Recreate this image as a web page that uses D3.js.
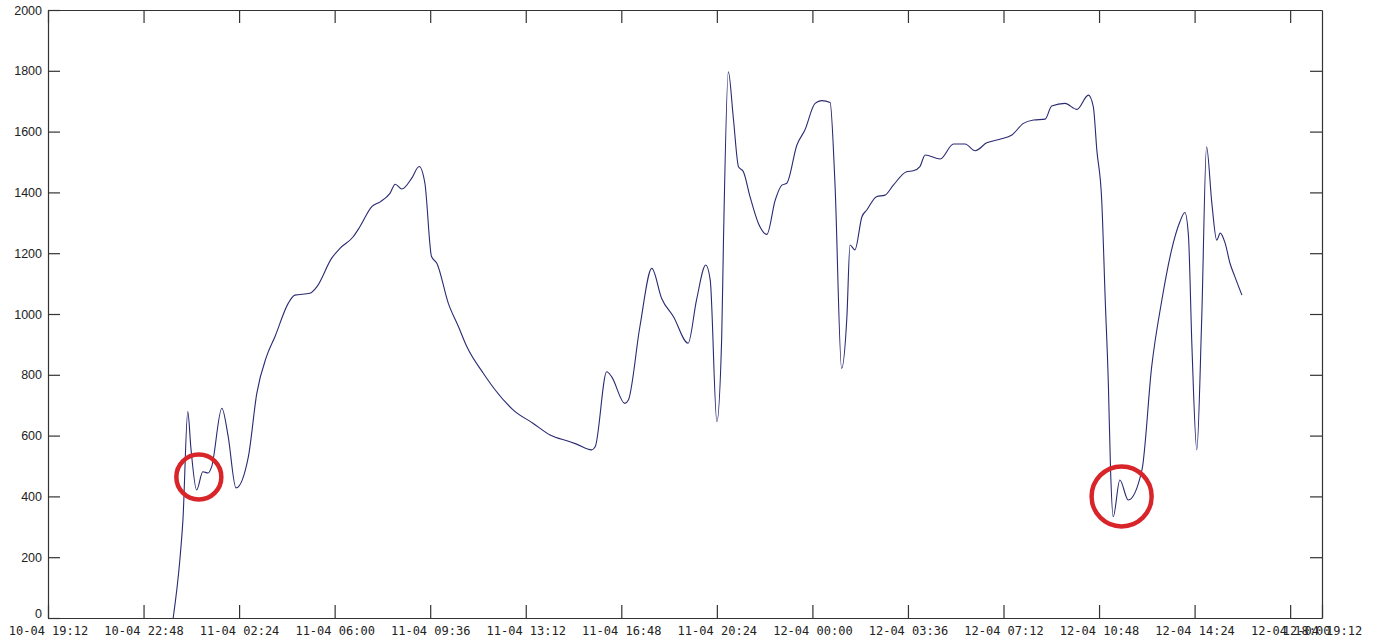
<!DOCTYPE html>
<html>
<head>
<meta charset="utf-8">
<script src="https://cdn.jsdelivr.net/npm/d3@7"></script>
<style>
  body { margin: 0; background: #fff; }
  svg { display: block; }
</style>
</head>
<body>
<script>
// messpunkte (zeit / wert)
var times = [
  "10-04 23:55", "11-04 00:10", "11-04 00:17", "11-04 00:28", "11-04 00:35", "11-04 00:48",
  "11-04 01:02", "11-04 01:14", "11-04 01:22", "11-04 01:45", "11-04 01:59", "11-04 02:17",
  "11-04 02:45", "11-04 03:04", "11-04 03:26", "11-04 03:45", "11-04 04:15", "11-04 04:30",
  "11-04 05:04", "11-04 05:20", "11-04 05:53", "11-04 06:12", "11-04 06:42", "11-04 06:57",
  "11-04 07:24", "11-04 07:43", "11-04 08:05", "11-04 08:17", "11-04 08:32", "11-04 08:54",
  "11-04 09:11", "11-04 09:24", "11-04 09:39", "11-04 09:51", "11-04 10:17", "11-04 10:40",
  "11-04 10:59", "11-04 11:36", "11-04 12:03", "11-04 12:44", "11-04 13:29", "11-04 14:07",
  "11-04 14:52", "11-04 15:07", "11-04 15:41", "11-04 15:49", "11-04 16:15", "11-04 16:26",
  "11-04 16:56", "11-04 17:04", "11-04 17:30", "11-04 17:57", "11-04 18:19", "11-04 18:46",
  "11-04 19:19", "11-04 19:38", "11-04 19:59", "11-04 20:09", "11-04 20:24", "11-04 20:35",
  "11-04 20:39", "11-04 20:50", "11-04 21:01", "11-04 21:13", "11-04 21:24", "11-04 21:39",
  "11-04 21:58", "11-04 22:17", "11-04 22:36", "11-04 22:51", "11-04 23:02", "11-04 23:25",
  "11-04 23:43", "12-04 00:06", "12-04 00:21", "12-04 00:40", "12-04 00:51", "12-04 01:06",
  "12-04 01:18", "12-04 01:25", "12-04 01:36", "12-04 01:52", "12-04 02:03", "12-04 02:25",
  "12-04 02:44", "12-04 03:03", "12-04 03:33", "12-04 03:48", "12-04 04:03", "12-04 04:15",
  "12-04 04:49", "12-04 05:19", "12-04 05:45", "12-04 06:08", "12-04 06:34", "12-04 07:04",
  "12-04 07:31", "12-04 07:57", "12-04 08:20", "12-04 08:46", "12-04 09:01", "12-04 09:31",
  "12-04 09:58", "12-04 10:24", "12-04 10:35", "12-04 10:43", "12-04 10:54", "12-04 11:02",
  "12-04 11:09", "12-04 11:14", "12-04 11:20", "12-04 11:35", "12-04 11:54", "12-04 12:25",
  "12-04 12:47", "12-04 13:10", "12-04 13:32", "12-04 13:51", "12-04 14:02", "12-04 14:10",
  "12-04 14:18", "12-04 14:29", "12-04 14:40", "12-04 14:51", "12-04 15:03", "12-04 15:14",
  "12-04 15:22", "12-04 15:33", "12-04 15:44", "12-04 15:55", "12-04 16:11"
];
var values = [
  0, 190, 322, 679, 560, 421,
  481, 477, 498, 690, 600, 428,
  531, 739, 860, 925, 1035, 1062,
  1068, 1090, 1183, 1216, 1254, 1287,
  1353, 1369, 1397, 1427, 1411, 1446,
  1485, 1430, 1189, 1167, 1035, 958,
  892, 805, 750, 684, 640, 602,
  580, 572, 553, 563, 810, 794,
  706, 717, 958, 1150, 1052, 991,
  904, 1046, 1161, 1112, 646, 925,
  1243, 1797, 1649, 1484, 1468, 1386,
  1298, 1262, 1375, 1424, 1430, 1556,
  1605, 1693, 1702, 1696, 1430, 821,
  991, 1227, 1211, 1320, 1342, 1386,
  1391, 1424, 1468, 1471, 1485, 1523,
  1510, 1559, 1559, 1537, 1563, 1575,
  1589, 1627, 1638, 1641, 1684, 1693,
  1673, 1720, 1682, 1539, 1375, 1046,
  772, 487, 333, 454, 388, 487,
  827, 1046, 1211, 1304, 1334, 1260,
  892, 553, 980, 1550, 1364, 1243,
  1266, 1233, 1167, 1123, 1062
];

// achsenbeschriftung
var xTickLabels = [
  "10-04 19:12", "10-04 22:48", "11-04 02:24", "11-04 06:00", "11-04 09:36",
  "11-04 13:12", "11-04 16:48", "11-04 20:24", "12-04 00:00", "12-04 03:36",
  "12-04 07:12", "12-04 10:48", "12-04 14:24", "12-04 18:00", "12-04 19:12"
];
var yTicks = [0, 200, 400, 600, 800, 1000, 1200, 1400, 1600, 1800, 2000];

// rote kreise (markierungen)
var markTimes = ["11-04 00:53", "12-04 11:39"];
var markValues = [464, 400];

var W = 1378, H = 643;
var margin = {top: 10, right: 56, bottom: 25, left: 48};

var parse = d3.timeParse("%d-%m %H:%M");
var fmt = d3.timeFormat("%d-%m %H:%M");

var data = times.map(function(t, i) { return {t: parse(t), v: values[i]}; });

var xScale = d3.scaleTime()
    .domain([parse(xTickLabels[0]), parse(xTickLabels[xTickLabels.length - 1])])
    .range([margin.left, W - margin.right]);

var yScale = d3.scaleLinear()
    .domain([0, 2000])
    .range([H - margin.bottom, margin.top]);

var svg = d3.select("body").append("svg")
    .attr("width", W)
    .attr("height", H);

// linie
var line = d3.line()
    .x(function(d) { return xScale(d.t); })
    .y(function(d) { return yScale(d.v); })
    .curve(d3.curveMonotoneX);

svg.append("path")
    .datum(data)
    .attr("fill", "none")
    .attr("stroke", "#2a2a72")
    .attr("stroke-width", 1.1)
    .attr("d", line);

var xTickVals = xTickLabels.map(parse);

// achse unten
var gx = svg.append("g")
    .attr("transform", "translate(0," + (H - margin.bottom) + ")")
    .call(d3.axisBottom(xScale).tickValues(xTickVals).tickFormat(fmt)
        .tickSize(-13).tickSizeOuter(0).tickPadding(8));
gx.selectAll("text")
    .style("font-family", "'DejaVu Sans Mono', 'Liberation Mono', monospace")
    .style("font-size", "12px")
    .attr("fill", "#222");

// achse oben (nur striche)
svg.append("g")
    .attr("transform", "translate(0," + margin.top + ")")
    .call(d3.axisTop(xScale).tickValues(xTickVals.slice(0, -1)).tickFormat("")
        .tickSize(-13).tickSizeOuter(0));

// achse links
var gy = svg.append("g")
    .attr("transform", "translate(" + margin.left + ",0)")
    .call(d3.axisLeft(yScale).tickValues(yTicks).tickFormat(d3.format("d"))
        .tickSize(-12).tickSizeOuter(0).tickPadding(6));
gy.selectAll("text")
    .style("font-family", "'Liberation Sans', Arial, sans-serif")
    .style("font-size", "12.5px")
    .attr("fill", "#222");
// die "0" sitzt knapp über der zeitachse
gy.selectAll("text").filter(function(d) { return d === 0; })
    .attr("dy", "-0.05em");

// achse rechts (nur striche)
svg.append("g")
    .attr("transform", "translate(" + (W - margin.right) + ",0)")
    .call(d3.axisRight(yScale).tickValues(yTicks.slice(1, -1)).tickFormat("")
        .tickSize(-12).tickSizeOuter(0));

svg.selectAll(".domain, .tick line")
    .attr("stroke", "#333")
    .attr("stroke-width", 1.2);

// markierungen
var marks = markTimes.map(function(t, i) { return {t: parse(t), v: markValues[i]}; });
var radii = [22.5, 30];
svg.selectAll(".mark")
    .data(marks)
    .enter().append("circle")
    .attr("class", "mark")
    .attr("cx", function(d) { return xScale(d.t); })
    .attr("cy", function(d) { return yScale(d.v); })
    .attr("r", function(d, i) { return radii[i]; })
    .attr("fill", "none")
    .attr("stroke", "#d8252a")
    .attr("stroke-width", 4.5);
</script>
</body>
</html>
